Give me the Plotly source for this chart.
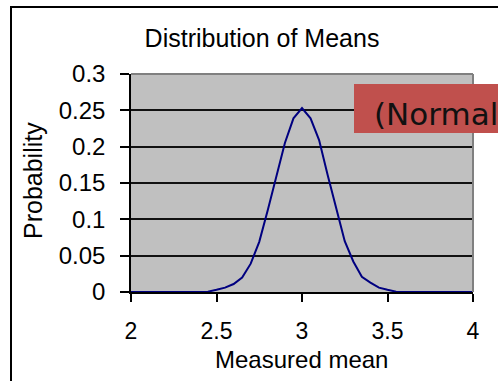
import plotly.graph_objects as go

# Data
measured_mean = [2.00, 2.05, 2.10, 2.15, 2.20, 2.25, 2.30, 2.35, 2.40, 2.45,
                 2.50, 2.55, 2.60, 2.65, 2.70, 2.75, 2.80, 2.85, 2.90, 2.95,
                 3.00, 3.05, 3.10, 3.15, 3.20, 3.25, 3.30, 3.35, 3.40, 3.45,
                 3.50, 3.55, 3.60, 3.65, 3.70, 3.75, 3.80, 3.85, 3.90, 3.95, 4.00]
probability = [0, 0, 0, 0, 0, 0, 0, 0, 0, 0.0005,
               0.003, 0.006, 0.011, 0.020, 0.039, 0.069, 0.113, 0.161, 0.205, 0.239,
               0.253, 0.239, 0.209, 0.161, 0.114, 0.070, 0.042, 0.021, 0.013, 0.006,
               0.003, 0.0005, 0, 0, 0, 0, 0, 0, 0, 0, 0]

title_text = "Distribution of Means"
x_title = "Measured mean"
y_title = "Probability"
note_text = "(Normal distribution)"

W, H = 498, 381
L, R, T, B = 131, 25, 74, 89
PW, PH = W - L - R, H - T - B


def px(x):
    return (x - L) / PW


def py(y):
    return (H - B - y) / PH


FONT = "Arial, 'Liberation Sans', sans-serif"

fig = go.Figure()
fig.add_trace(go.Scatter(x=measured_mean, y=probability, mode="lines",
                         line=dict(color="#000080", width=2),
                         showlegend=False, cliponaxis=False))

fig.update_layout(
    width=W, height=H, autosize=False,
    margin=dict(l=L, r=R, t=T, b=B, pad=0),
    paper_bgcolor="white", plot_bgcolor="#C0C0C0",
    font=dict(family=FONT, color="black", size=24),
    title=dict(text=title_text, x=px(262), xref="paper", xanchor="center",
               y=1 - 38 / H, yref="container", yanchor="middle",
               font=dict(family=FONT, size=25, color="black")),
    xaxis=dict(range=[2, 4], dtick=0.5, tick0=2, showgrid=False, zeroline=False,
               showline=True, linecolor="black", linewidth=1.5,
               ticks="outside", ticklen=8, tickwidth=1.5, tickcolor="black",
               tickfont=dict(family=FONT, size=23, color="black"),
               ticklabelstandoff=10, layer="below traces"),
    yaxis=dict(range=[0, 0.3], dtick=0.05, tick0=0, showgrid=True,
               gridcolor="#111111", gridwidth=1.5, zeroline=False,
               showline=True, linecolor="black", linewidth=1.5,
               ticks="outside", ticklen=9, tickwidth=1.5, tickcolor="black",
               tickfont=dict(family=FONT, size=24, color="black"),
               ticklabelstandoff=10, layer="below traces"),
)

shapes = [
    # outer chart border (extends beyond the window)
    dict(type="rect", xref="paper", yref="paper", x0=px(11), x1=px(530),
         y0=py(7), y1=py(420), line=dict(color="black", width=2),
         fillcolor="rgba(0,0,0,0)", layer="above"),
    # plot area top & right edges (gray)
    dict(type="line", xref="paper", yref="paper", x0=0, x1=1, y0=1, y1=1,
         line=dict(color="#808080", width=2), layer="above"),
    dict(type="line", xref="paper", yref="paper", x0=1, x1=1, y0=0, y1=1,
         line=dict(color="#808080", width=2), layer="above"),
    # red label box
    dict(type="rect", xref="paper", yref="paper", x0=px(354), x1=px(540),
         y0=py(133), y1=py(84), line=dict(width=0),
         fillcolor="#C0504D", layer="above"),
]
fig.update_layout(shapes=shapes)

fig.add_annotation(text=note_text, xref="paper", yref="paper",
                   x=px(372), y=py(114), xanchor="left", yanchor="middle",
                   showarrow=False,
                   font=dict(family="'DejaVu Sans', Verdana, sans-serif",
                             size=31, color="#111111"))
fig.add_annotation(text=y_title, xref="paper", yref="paper",
                   x=px(33), y=py(181), xanchor="center", yanchor="middle",
                   textangle=-90, showarrow=False,
                   font=dict(family=FONT, size=25, color="black"))
fig.add_annotation(text=x_title, xref="paper", yref="paper",
                   x=px(301), y=py(359), xanchor="center", yanchor="middle",
                   showarrow=False,
                   font=dict(family=FONT, size=24, color="black"))

fig.write_html("out.html")
